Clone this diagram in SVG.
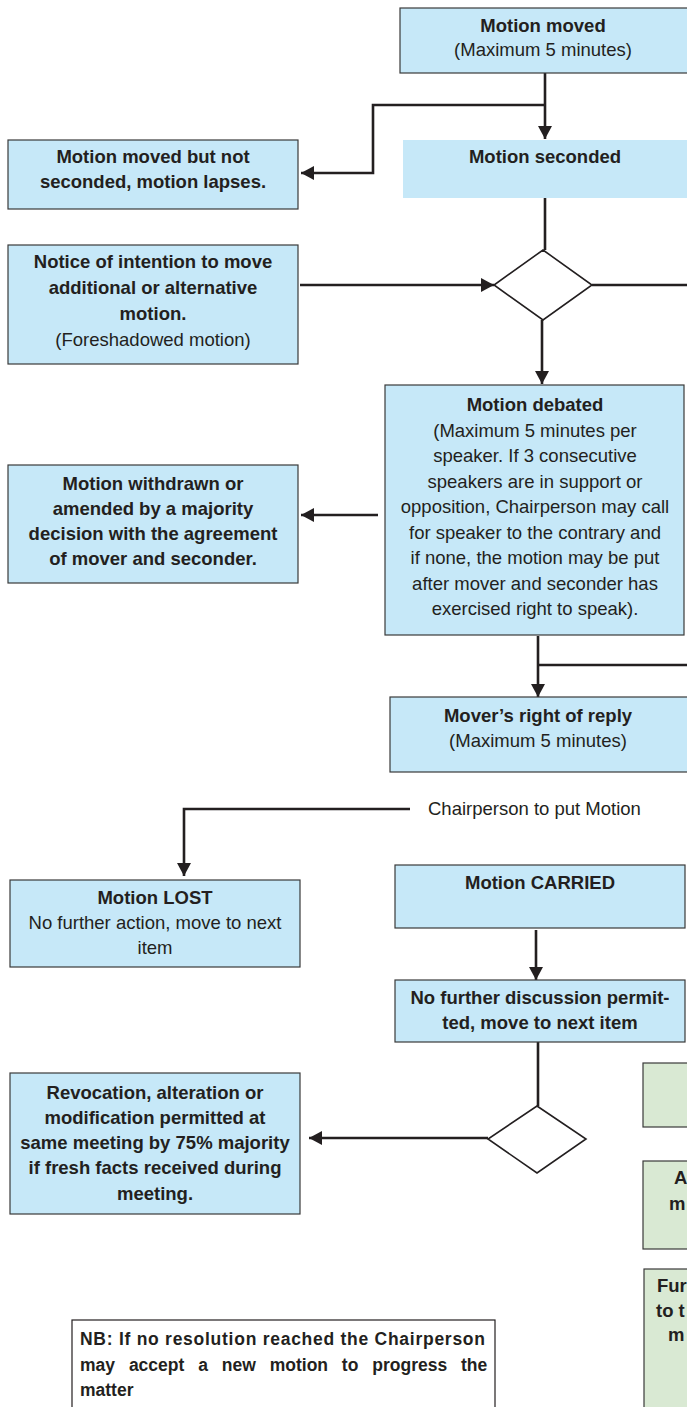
<svg xmlns="http://www.w3.org/2000/svg" width="687" height="1407" viewBox="0 0 687 1407">
<style>
.box{fill:#c6e8f8;stroke:#3a3a3a;stroke-width:1.2}
.nob{fill:#c6e8f8;stroke:none}
.grn{fill:#d9e9d3;stroke:#3a3a3a;stroke-width:1.2}
.nb{fill:#ffffff;stroke:#231f20;stroke-width:1.2}
.dia{fill:#ffffff;stroke:#231f20;stroke-width:1.6}
.ln{fill:none;stroke:#231f20;stroke-width:2.6}
text{font-family:"Liberation Sans",Arial,sans-serif;font-size:18.5px;fill:#231f20}
.b{font-weight:bold}
.c{text-anchor:middle}
.s{font-size:17.5px}
</style>
<defs>
<marker id="ah" markerUnits="userSpaceOnUse" markerWidth="14" markerHeight="14" viewBox="0 0 14 14" refX="13" refY="7" orient="auto">
<path d="M0,0 L13,7 L0,14 Z" fill="#231f20"/>
</marker>
</defs>
<g id="connectors">
<polyline class="ln" points="545,73 545,139" marker-end="url(#ah)"/>
<polyline class="ln" points="545,105 373,105 373,173 301,173" marker-end="url(#ah)"/>
<line class="ln" x1="545" y1="198" x2="545" y2="250"/>
<line class="ln" x1="300" y1="285" x2="494" y2="285" marker-end="url(#ah)"/>
<line class="ln" x1="592" y1="285" x2="687" y2="285"/>
<line class="ln" x1="542" y1="320" x2="542" y2="384" marker-end="url(#ah)"/>
<line class="ln" x1="378" y1="515" x2="301" y2="515" marker-end="url(#ah)"/>
<line class="ln" x1="538" y1="636" x2="538" y2="697" marker-end="url(#ah)"/>
<line class="ln" x1="538" y1="665" x2="687" y2="665"/>
<polyline class="ln" points="410,809 184,809 184,876" marker-end="url(#ah)"/>
<line class="ln" x1="536" y1="930" x2="536" y2="980" marker-end="url(#ah)"/>
<line class="ln" x1="538" y1="1042" x2="538" y2="1106"/>
<line class="ln" x1="488" y1="1138" x2="309" y2="1138" marker-end="url(#ah)"/>
</g>
<g id="n-motion-moved">
<rect class="box" x="400" y="8" width="290" height="65"/>
<text class="b c" x="543" y="32">Motion moved</text>
<text class="c" x="543" y="56">(Maximum 5 minutes)</text>
</g>
<g id="n-not-seconded">
<rect class="box" x="8" y="140" width="290" height="69"/>
<text class="b c" x="153" y="163">Motion moved but not</text>
<text class="b c" x="153" y="188">seconded, motion lapses.</text>
</g>
<g id="n-seconded">
<rect class="nob" x="403" y="140" width="290" height="58"/>
<text class="b c" x="545" y="163">Motion seconded</text>
</g>
<g id="n-notice">
<rect class="box" x="8" y="245" width="290" height="119"/>
<text class="b c" x="153" y="268">Notice of intention to move</text>
<text class="b c" x="153" y="294">additional or alternative</text>
<text class="b c" x="153" y="320">motion.</text>
<text class="c" x="153" y="346">(Foreshadowed motion)</text>
</g>
<g id="n-decision1">
<polygon class="dia" points="543,250 592,285 543,320 494,285"/>
</g>
<g id="n-debated">
<rect class="box" x="385" y="385" width="299" height="250"/>
<text class="b c" x="535" y="411">Motion debated</text>
<text class="c" x="535" y="436.5">(Maximum 5 minutes per</text>
<text class="c" x="535" y="462">speaker. If 3 consecutive</text>
<text class="c" x="535" y="487.5">speakers are in support or</text>
<text class="c" x="535" y="513">opposition, Chairperson may call</text>
<text class="c" x="535" y="538.5">for speaker to the contrary and</text>
<text class="c" x="535" y="564">if none, the motion may be put</text>
<text class="c" x="535" y="589.5">after mover and seconder has</text>
<text class="c" x="535" y="615">exercised right to speak).</text>
</g>
<g id="n-withdrawn">
<rect class="box" x="8" y="465" width="290" height="118"/>
<text class="b c" x="153" y="490">Motion withdrawn or</text>
<text class="b c" x="153" y="515">amended  by a majority</text>
<text class="b c" x="153" y="540">decision with the agreement</text>
<text class="b c" x="153" y="565">of mover and seconder.</text>
</g>
<g id="n-reply">
<rect class="box" x="390" y="697" width="300" height="75"/>
<text class="b c" x="538" y="722">Mover’s right of reply</text>
<text class="c" x="538" y="747">(Maximum 5 minutes)</text>
</g>
<g id="n-put">
<text x="428" y="815">Chairperson to put Motion</text>
</g>
<g id="n-lost">
<rect class="box" x="10" y="880" width="290" height="87"/>
<text class="b c" x="155" y="904">Motion LOST</text>
<text class="c" x="155" y="929">No further action, move to next</text>
<text class="c" x="155" y="954">item</text>
</g>
<g id="n-carried">
<rect class="box" x="395" y="865" width="290" height="63"/>
<text class="b c" x="540" y="889">Motion CARRIED</text>
</g>
<g id="n-nofurther">
<rect class="box" x="395" y="980" width="290" height="62"/>
<text class="b c" x="540" y="1004">No further discussion permit-</text>
<text class="b c" x="540" y="1029">ted, move to next item</text>
</g>
<g id="n-decision2">
<polygon class="dia" points="537,1106 586,1139 537,1173 488,1139"/>
</g>
<g id="n-revocation">
<rect class="box" x="10" y="1073" width="290" height="141"/>
<text class="b c" x="155" y="1099">Revocation, alteration or</text>
<text class="b c" x="155" y="1124">modification permitted at</text>
<text class="b c" x="155" y="1149">same meeting by 75% majority</text>
<text class="b c" x="155" y="1174">if fresh facts received during</text>
<text class="b c" x="155" y="1200">meeting.</text>
</g>
<g id="n-green1">
<rect class="grn" x="643" y="1063" width="60" height="64"/>
</g>
<g id="n-green2">
<rect class="grn" x="643" y="1161" width="60" height="88"/>
<text class="b" x="674" y="1184">A</text>
<text class="b" x="669" y="1210">m</text>
</g>
<g id="n-green3">
<rect class="grn" x="644" y="1269" width="60" height="150"/>
<text class="b" x="657" y="1292">Fur</text>
<text class="b" x="656" y="1317">to t</text>
<text class="b" x="668" y="1341">m</text>
</g>
<g id="n-nb">
<rect class="nb" x="72" y="1320" width="423" height="90"/>
<text class="b s" x="80" y="1345" textLength="405" lengthAdjust="spacing">NB: If no resolution reached the Chairperson</text>
<text class="b s" x="80" y="1371" word-spacing="9">may accept a new motion to progress the</text>
<text class="b s" x="80" y="1396">matter</text>
</g>
</svg>
